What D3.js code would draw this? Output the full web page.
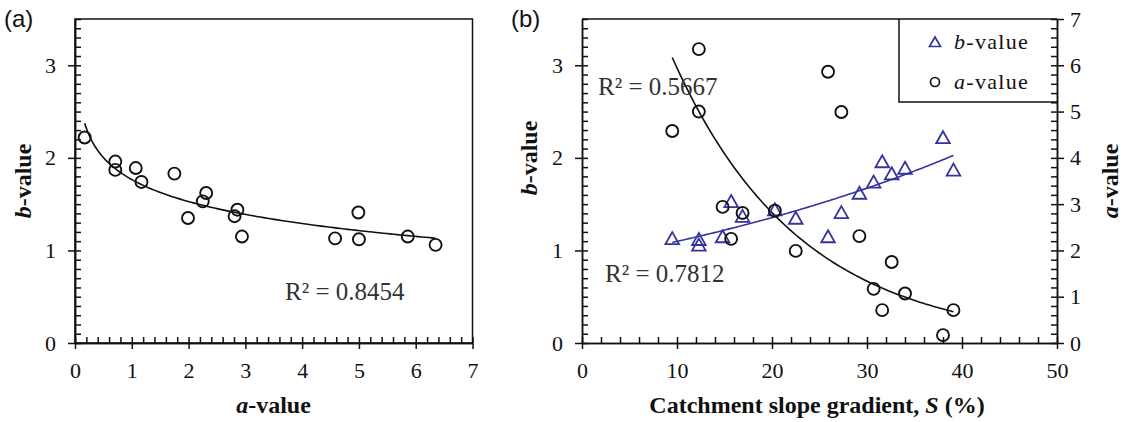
<!DOCTYPE html>
<html>
<meta charset="utf-8">
<style type="text/css">
	body { margin: 0; background: #fff; }
	svg { display: block; }
	.axis path, .axis line { stroke: #111; stroke-width: 1.5px; }
	.title { font-family: "Liberation Serif", serif; font-weight: bold; font-size: 24px; fill: #111; }
	.panel { font-family: "Liberation Sans", Arial, sans-serif; font-size: 24px; fill: #111; }
	.r2 { font-family: "Liberation Serif", serif; font-size: 25px; fill: #333; }
	.leg { font-family: "Liberation Serif", serif; font-size: 22px; letter-spacing: 1.3px; fill: #111; }
</style>
<svg width="1124" height="422"></svg>
<script src="https://d3js.org/d3.v7.min.js"></script>
<script>
	// one entry per catchment: slope gradient S (%), a-value, b-value
	var slope = [9.5, 12.3, 12.3, 14.8, 15.7, 16.9, 20.3, 22.5, 25.9, 27.3, 29.2, 30.7, 31.6, 32.6, 34.0, 38.0, 39.1];
	var aVal  = [4.58, 6.35, 5.0, 2.94, 2.25, 2.81, 2.86, 1.99, 5.86, 4.99, 2.31, 1.17, 0.71, 1.75, 1.07, 0.17, 0.71];
	var bVal  = [1.13, 1.06, 1.12, 1.15, 1.53, 1.37, 1.44, 1.35, 1.15, 1.41, 1.62, 1.74, 1.96, 1.83, 1.89, 2.22, 1.87];

	var r2Labels = ['R\u00b2 = 0.8454', 'R\u00b2 = 0.5667', 'R\u00b2 = 0.7812'];
	var aTicks = [0, 1, 2, 3, 4, 5, 6, 7];
	var bTicks = [0, 1, 2, 3];
	var sTicks = [0, 10, 20, 30, 40, 50];

	var blue = '#34349c';

	var svg = d3.select('svg');

	// least squares y = p + q*x
	function linfit(xs, ys) {
		var n = xs.length, mx = d3.mean(xs), my = d3.mean(ys);
		var sxy = 0, sxx = 0;
		for (var i = 0; i < n; i++) { sxy += (xs[i] - mx) * (ys[i] - my); sxx += (xs[i] - mx) * (xs[i] - mx); }
		var q = sxy / sxx;
		return { p: my - q * mx, q: q };
	}

	function minorTicks(lo, hi, step) {
		var t = [];
		for (var v = lo; v <= hi + 1e-9; v += step) t.push(+v.toFixed(4));
		return t;
	}

	// major ticks cross the axis, minor ticks point inwards
	function crossAxis(g, axisFn, scale, major, minor, outer, pad) {
		g.append('g').attr('class', 'axis')
			.call(axisFn(scale).tickValues(major).tickSize(outer).tickSizeOuter(0).tickPadding(pad).tickFormat(d3.format('d')))
			.attr('font-family', '"Liberation Serif", "Times New Roman", serif').attr('font-size', 22)
			.selectAll('text').attr('fill', '#111');
		g.append('g').attr('class', 'axis')
			.call(axisFn(scale).tickValues(minor).tickSize(-6).tickSizeOuter(0).tickFormat(''));
	}

	// ---------- panel (a) ----------
	var xa = d3.scaleLinear().domain([0, 7]).range([75, 472.5]);
	var ya = d3.scaleLinear().domain([0, 3.5]).range([343, 19]);

	var ga = svg.append('g');
	ga.append('rect').attr('x', 75).attr('y', 19).attr('width', 397.5).attr('height', 324)
		.attr('fill', 'none').attr('stroke', '#111').attr('stroke-width', 1.5);

	crossAxis(ga.append('g').attr('transform', 'translate(0,343)'), d3.axisBottom, xa,
		aTicks, minorTicks(0, 7, 0.2), 6, 13);
	crossAxis(ga.append('g').attr('transform', 'translate(75,0)'), d3.axisLeft, ya,
		bTicks, minorTicks(0, 3.5, 0.1), 7, 12);

	// log trend b = p + q ln(a)
	var fa = linfit(aVal.map(Math.log), bVal);
	var aLo = d3.min(aVal), aHi = d3.max(aVal);
	var curveA = d3.range(0, 101).map(function (i) { var a = aLo + (aHi - aLo) * i / 100; return [a, fa.p + fa.q * Math.log(a)]; });
	ga.append('path').datum(curveA)
		.attr('d', d3.line().x(function (d) { return xa(d[0]); }).y(function (d) { return ya(d[1]); }))
		.attr('fill', 'none').attr('stroke', '#111').attr('stroke-width', 1.6);

	ga.selectAll('.pa').data(aVal).enter().append('circle')
		.attr('cx', function (d) { return xa(d); })
		.attr('cy', function (d, i) { return ya(bVal[i]); })
		.attr('r', 6).attr('fill', 'none').attr('stroke', '#111').attr('stroke-width', 1.9);

	ga.append('text').attr('class', 'r2').attr('x', 285).attr('y', 300).text(r2Labels[0]);
	ga.append('text').attr('class', 'panel').attr('x', 4).attr('y', 27).text('(a)');

	ga.append('text').attr('class', 'title').attr('text-anchor', 'middle')
		.attr('x', 273.5).attr('y', 413)
		.call(function (t) { t.append('tspan').attr('font-style', 'italic').text('a'); t.append('tspan').text('-value'); });
	ga.append('text').attr('class', 'title').attr('text-anchor', 'middle')
		.attr('transform', 'translate(31,181) rotate(-90)')
		.call(function (t) { t.append('tspan').attr('font-style', 'italic').text('b'); t.append('tspan').text('-value'); });

	// ---------- panel (b) ----------
	var xs = d3.scaleLinear().domain([0, 50]).range([582, 1057]);
	var yb = d3.scaleLinear().domain([0, 3.5]).range([343, 19]);
	var yaR = d3.scaleLinear().domain([0, 7]).range([343, 19]);

	var gb = svg.append('g');
	gb.append('line').attr('x1', 582).attr('x2', 1057).attr('y1', 19).attr('y2', 19)
		.attr('stroke', '#111').attr('stroke-width', 1.5);

	crossAxis(gb.append('g').attr('transform', 'translate(0,343)'), d3.axisBottom, xs,
		sTicks, minorTicks(0, 50, 2), 6, 13);
	crossAxis(gb.append('g').attr('transform', 'translate(582,0)'), d3.axisLeft, yb,
		bTicks, minorTicks(0, 3.5, 0.1), 7, 12);
	crossAxis(gb.append('g').attr('transform', 'translate(1057,0)'), d3.axisRight, yaR,
		aTicks, minorTicks(0, 7, 0.2), 7, 6);

	// exponential trends y = e^p * e^(q S)
	function expCurve(ys) {
		var f = linfit(slope, ys.map(Math.log));
		var lo = d3.min(slope), hi = d3.max(slope);
		return d3.range(0, 101).map(function (i) { var s = lo + (hi - lo) * i / 100; return [s, Math.exp(f.p + f.q * s)]; });
	}

	gb.append('path').datum(expCurve(aVal))
		.attr('d', d3.line().x(function (d) { return xs(d[0]); }).y(function (d) { return yaR(d[1]); }))
		.attr('fill', 'none').attr('stroke', '#111').attr('stroke-width', 1.6);
	gb.append('path').datum(expCurve(bVal))
		.attr('d', d3.line().x(function (d) { return xs(d[0]); }).y(function (d) { return yb(d[1]); }))
		.attr('fill', 'none').attr('stroke', blue).attr('stroke-width', 1.6);

	var tri = 'M0,-6.3L6.8,5.7L-6.8,5.7Z';

	gb.selectAll('.pt').data(slope).enter().append('path')
		.attr('d', tri)
		.attr('transform', function (d, i) { return 'translate(' + xs(d) + ',' + yb(bVal[i]) + ')'; })
		.attr('fill', 'none').attr('stroke', blue).attr('stroke-width', 1.8);

	gb.selectAll('.pc').data(slope).enter().append('circle')
		.attr('cx', function (d) { return xs(d); })
		.attr('cy', function (d, i) { return yaR(aVal[i]); })
		.attr('r', 6).attr('fill', 'none').attr('stroke', '#111').attr('stroke-width', 1.9);

	gb.append('text').attr('class', 'r2').attr('x', 598).attr('y', 95).text(r2Labels[1]);
	gb.append('text').attr('class', 'r2').attr('x', 605).attr('y', 282).text(r2Labels[2]);
	gb.append('text').attr('class', 'panel').attr('x', 511).attr('y', 27).text('(b)');

	// legend
	gb.append('path').attr('d', 'M899,19V102H1057').attr('fill', 'none').attr('stroke', '#111').attr('stroke-width', 1.5);
	gb.append('path').attr('d', 'M0,-5L5.5,4.5L-5.5,4.5Z').attr('transform', 'translate(935,42)')
		.attr('fill', 'none').attr('stroke', blue).attr('stroke-width', 1.7);
	gb.append('circle').attr('cx', 935).attr('cy', 82).attr('r', 4.5)
		.attr('fill', 'none').attr('stroke', '#111').attr('stroke-width', 1.7);
	gb.append('text').attr('class', 'leg').attr('x', 954).attr('y', 49)
		.call(function (t) { t.append('tspan').attr('font-style', 'italic').text('b'); t.append('tspan').text('-value'); });
	gb.append('text').attr('class', 'leg').attr('x', 954).attr('y', 89)
		.call(function (t) { t.append('tspan').attr('font-style', 'italic').text('a'); t.append('tspan').text('-value'); });

	gb.append('text').attr('class', 'title').attr('text-anchor', 'middle')
		.attr('x', 817).attr('y', 413)
		.call(function (t) {
			t.append('tspan').text('Catchment slope gradient, ');
			t.append('tspan').attr('font-style', 'italic').text('S');
			t.append('tspan').text(' (%)');
		});
	gb.append('text').attr('class', 'title').attr('text-anchor', 'middle')
		.attr('transform', 'translate(537,158) rotate(-90)')
		.call(function (t) { t.append('tspan').attr('font-style', 'italic').text('b'); t.append('tspan').text('-value'); });
	gb.append('text').attr('class', 'title').attr('text-anchor', 'middle')
		.attr('transform', 'translate(1118,181) rotate(-90)')
		.call(function (t) { t.append('tspan').attr('font-style', 'italic').text('a'); t.append('tspan').text('-value'); });
</script>
</html>
